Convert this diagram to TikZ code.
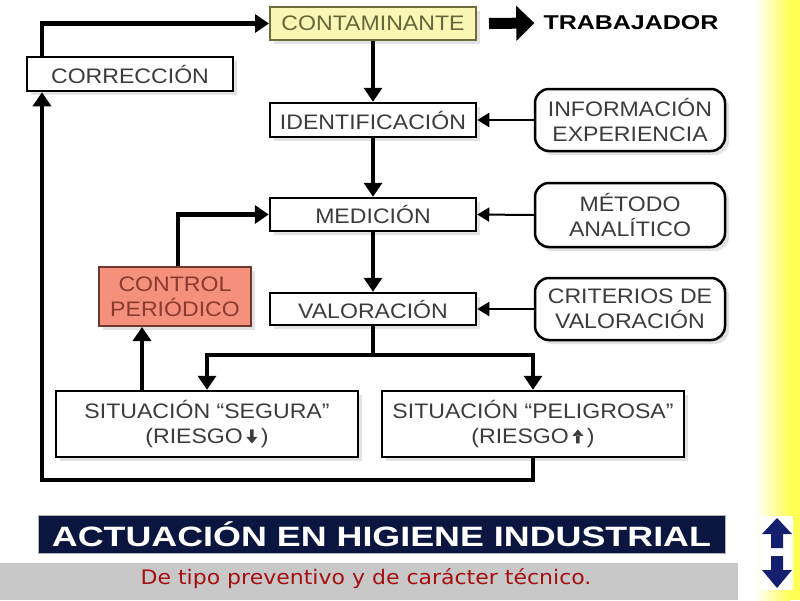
\documentclass[tikz,border=0pt]{standalone}
\usepackage{fontspec}
\setmainfont{Liberation Sans}[FakeStretch=1.1]
\newfontfamily\titlefont{Liberation Sans}[FakeStretch=1.28]
\newfontfamily\trabfont{Liberation Sans}[FakeStretch=1.25]
\newfontfamily\verdfont{DejaVu Sans}[FakeStretch=1.1]
\usetikzlibrary{arrows.meta,shadows}
\definecolor{boxtext}{HTML}{3C3C3C}
\definecolor{contfill}{HTML}{FAF7B5}
\definecolor{contdraw}{HTML}{6E6E3C}
\definecolor{conttext}{HTML}{66663A}
\definecolor{ctrlfill}{HTML}{F4907C}
\definecolor{ctrldraw}{HTML}{6E3A30}
\definecolor{ctrltext}{HTML}{8A3A2E}
\definecolor{navy}{HTML}{0B1640}
\definecolor{redtext}{HTML}{A50F0F}
\definecolor{arrownavy}{HTML}{14206E}
\definecolor{stripgray}{HTML}{C8C8C8}
\definecolor{yellowstrip}{HTML}{FFFF55}
\newcommand\dnarr{\tikz[baseline=0pt,x=1pt,y=1pt]\fill (-1.8,5) rectangle (1.8,14) (-5.5,6.5) -- (5.5,6.5) -- (0,0) -- cycle;}
\newcommand\uparr{\tikz[baseline=0pt,x=1pt,y=1pt]\fill (-1.8,0) rectangle (1.8,8) (-5.5,7.5) -- (5.5,7.5) -- (0,14) -- cycle;}
\begin{document}
\begin{tikzpicture}[x=1pt,y=-1pt,
  sqbox/.style={draw=black, line width=2.5pt, fill=white, minimum width=206pt,
    minimum height=33pt, inner sep=0pt, text=boxtext, align=center,
    font=\fontsize{21}{25}\selectfont,
    drop shadow={shadow xshift=4pt, shadow yshift=-4pt, fill=black!22}},
  rbox/.style={sqbox, rounded corners=14pt, minimum width=190pt, minimum height=62pt},
  main/.style={line width=4.5pt, -{Triangle[width=18pt,length=14pt]}},
  infoarr/.style={line width=2pt, -{Triangle[width=14pt,length=12pt]}}]
\useasboundingbox (0,0) rectangle (800,600);
\fill[white] (0,0) rectangle (800,600);
% right strip
\shade[left color=white, right color=yellowstrip] (755,0) rectangle (790,600);
\fill[yellowstrip] (790,0) rectangle (800,600);
% nodes
\node[sqbox, fill=contfill, draw=contdraw, text=conttext, line width=2pt] (cont) at (373,23.5) {CONTAMINANTE};
\node[inner sep=0pt, font=\trabfont\bfseries\fontsize{20}{24}\selectfont] (trab) at (631,23) {TRABAJADOR};
\node[sqbox, minimum height=34pt] (corr) at (130,74) {CORRECCIÓN};
\node[sqbox, minimum height=34pt] (ident) at (373,120) {IDENTIFICACIÓN};
\node[rbox] (info) at (630,120) {INFORMACIÓN\\EXPERIENCIA};
\node[sqbox] (medic) at (373,214.5) {MEDICIÓN};
\node[rbox, minimum height=64pt] (metodo) at (630,215) {MÉTODO\\ANALÍTICO};
\node[sqbox, minimum height=32pt] (valor) at (373,309) {VALORACIÓN};
\node[rbox] (crit) at (630,309) {CRITERIOS DE\\VALORACIÓN};
\node[sqbox, fill=ctrlfill, draw=ctrldraw, text=ctrltext, line width=2pt,
  minimum width=152pt, minimum height=59pt] (ctrl) at (175,296.5) {CONTROL\\PERIÓDICO};
\node[sqbox, minimum width=302pt, minimum height=66pt] (seg) at (207,424) {SITUACIÓN “SEGURA”\\(RIESGO\,\dnarr\,)};
\node[sqbox, minimum width=302pt, minimum height=66pt] (pel) at (533,424) {SITUACIÓN “PELIGROSA”\\(RIESGO\,\uparr\,)};
% connectors
\coordinate (split) at (373,355);
\coordinate (loopc) at (42,480);
\draw[main] (cont.south) -- (ident.north);
\draw[main] (ident.south) -- (medic.north);
\draw[main] (medic.south) -- (valor.north);
\draw[line width=4.5pt] (valor.south) -- (split);
\draw[main] (split) -| (seg.north);
\draw[main] (split) -| (pel.north);
\draw[main] (seg.north -| 142,0) -- (ctrl.south -| 142,0);
\draw[main] (ctrl.north -| 178,0) |- (medic.west);
\draw[main] (pel.south) |- (loopc) -- (corr.south -| loopc);
\draw[main] (corr.north -| loopc) |- (cont.west);
\draw[infoarr] (info.west) -- (ident.east);
\draw[infoarr] (metodo.west) -- (medic.east);
\draw[infoarr] (crit.west) -- (valor.east);
\draw[line width=11pt, -{Triangle[width=34pt,length=18pt]}] ([xshift=12pt]cont.east) -- ([xshift=-9pt]trab.west);
% bottom
\fill[stripgray] (0,563) rectangle (738,600);
\node[font=\verdfont\fontsize{20}{24}\selectfont, text=redtext] (sub) at (366,579) {De tipo preventivo y de carácter técnico.};
\node[fill=navy, draw=gray!60, line width=0.8pt, minimum width=687pt, minimum height=38pt,
  inner sep=0pt, text=white, font=\titlefont\bfseries\fontsize{28}{30}\selectfont] (title) at (381.5,534) {ACTUACIÓN EN HIGIENE INDUSTRIAL};
% navigation arrows
\fill[white] (760,516) rectangle (793,590);
\fill[arrownavy] (777,518) -- (792,534) -- (783,534) -- (783,548) -- (771,548) -- (771,534) -- (762,534) -- cycle;
\fill[arrownavy] (771,556) -- (783,556) -- (783,570) -- (792,570) -- (777,588) -- (762,570) -- (771,570) -- cycle;
\end{tikzpicture}
\end{document}
